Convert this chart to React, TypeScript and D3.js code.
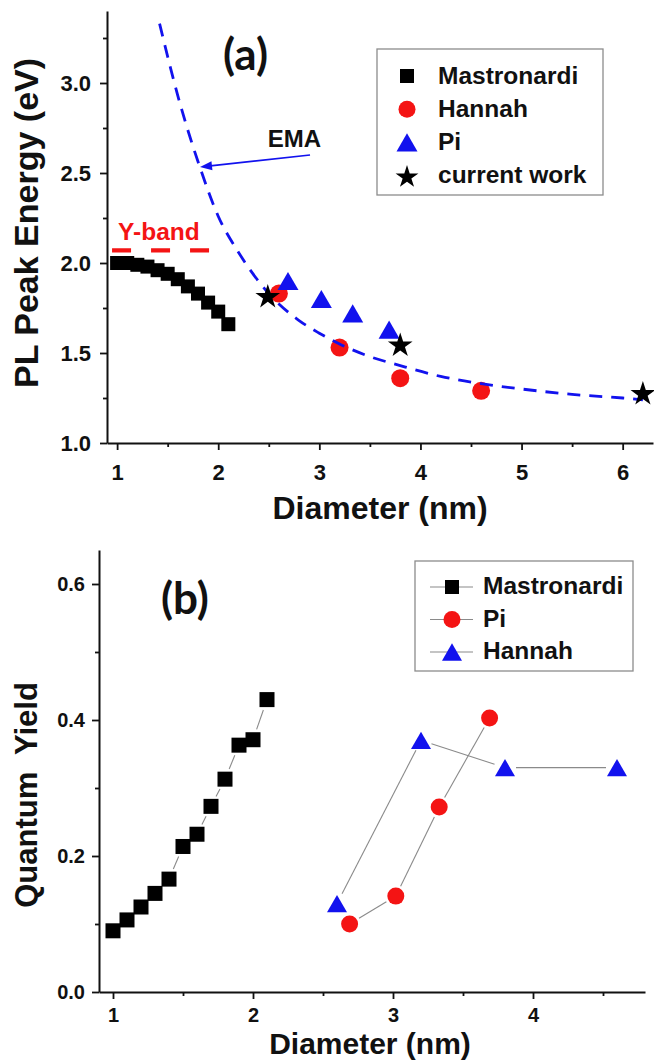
import * as d3 from 'd3'
import { useEffect, useRef } from 'react'

const W = 654
const H = 1063
const FONT = '"Liberation Sans", Arial, sans-serif'
const RED = '#f41414'
const BLUE = '#1212ee'

// panel (a): PL peak energy (eV) vs diameter (nm)
const mastroD = [1.0, 1.1, 1.2, 1.3, 1.4, 1.5, 1.6, 1.7, 1.8, 1.9, 2.0, 2.1]
const mastroPL = [2.0, 2.0, 1.99, 1.98, 1.96, 1.94, 1.91, 1.87, 1.83, 1.78, 1.73, 1.66]
const hannahD = [2.6, 3.2, 3.8, 4.6]
const hannahPL = [1.83, 1.53, 1.36, 1.29]
const piD = [2.69, 3.02, 3.33, 3.69]
const piPL = [1.9, 1.8, 1.72, 1.63]
const currentD = [2.49, 3.8, 6.2]
const currentPL = [1.82, 1.55, 1.28]
// EMA curve
const emaD = [1.42, 1.6, 1.82, 2.0, 2.2, 2.5, 2.8, 3.0, 3.2, 3.5, 3.8, 4.2, 4.6, 5.0, 5.5, 6.0, 6.2]
const emaPL = [3.33, 2.93, 2.53, 2.26, 2.06, 1.83, 1.68, 1.61, 1.55, 1.48, 1.43, 1.37, 1.33, 1.3, 1.27, 1.25, 1.24]
const yBandD = [0.95, 1.92]
const yBandPL = 2.07

// panel (b): quantum yield vs diameter (nm)
const mastroQY = [0.09, 0.106, 0.125, 0.145, 0.166, 0.214, 0.232, 0.273, 0.313, 0.363, 0.371, 0.43]
const piQY = [0.1, 0.141, 0.272, 0.403]
const hannahQY = [0.13, 0.37, 0.33, 0.33]

const xTicksA = [1, 2, 3, 4, 5, 6]
const xMinorA = [1.5, 2.5, 3.5, 4.5, 5.5]
const yTicksA = [1.0, 1.5, 2.0, 2.5, 3.0]
const yMinorA = [1.25, 1.75, 2.25, 2.75, 3.25]
const xTicksB = [1, 2, 3, 4]
const xMinorB = [1.5, 2.5, 3.5, 4.5]
const yTicksB = [0, 0.2, 0.4, 0.6]
const yMinorB = [0.1, 0.3, 0.5]

type Sel = d3.Selection<any, unknown, null, undefined>
type Shape = 'square' | 'circle' | 'triangle' | 'star'

function marker(g: Sel, shape: Shape, cx: number, cy: number, s: number, color: string) {
    if (shape === 'square') {
        g.append('rect').attr('x', cx - s / 2).attr('y', cy - s / 2).attr('width', s).attr('height', s).attr('fill', color)
    } else if (shape === 'circle') {
        g.append('circle').attr('cx', cx).attr('cy', cy).attr('r', s / 2).attr('fill', color)
    } else if (shape === 'triangle') {
        const h = s * 0.866
        g.append('path')
            .attr('d', `M${cx},${cy - h / 2}L${cx + s / 2},${cy + h / 2}L${cx - s / 2},${cy + h / 2}Z`)
            .attr('fill', color)
    } else {
        const r = s / 2
        g.append('path')
            .attr('d', d3.symbol(d3.symbolStar, (r * r) / 0.8908)()!)
            .attr('transform', `translate(${cx},${cy + 1.5})`)
            .attr('fill', color)
    }
}

function axes(svg: Sel, x: d3.ScaleLinear<number, number>, y: d3.ScaleLinear<number, number>,
    xMajor: number[], xMinor: number[], yMajor: number[], yMinor: number[],
    yFmt: (d: number) => string, fontSize: number, xPad: number, yPad: number) {
    const y0 = y.range()[0]
    const x0 = x.range()[0]

    const style = (g: Sel) => {
        g.select('.domain').attr('stroke', '#111').attr('stroke-width', 2)
        g.selectAll('.tick line').attr('stroke', '#111').attr('stroke-width', 1.8)
        g.selectAll('.tick text').attr('fill', '#111').attr('font-family', FONT)
            .attr('font-weight', 'bold').attr('font-size', fontSize)
    }

    const bottom = svg.append('g').attr('transform', `translate(0,${y0})`)
        .call(d3.axisBottom(x).tickValues(xMajor).tickFormat(d3.format('d') as any).tickSize(7).tickSizeOuter(0).tickPadding(xPad))
    style(bottom)
    const bottomMinor = svg.append('g').attr('transform', `translate(0,${y0})`)
        .call(d3.axisBottom(x).tickValues(xMinor).tickFormat(() => '').tickSize(4).tickSizeOuter(0))
    bottomMinor.select('.domain').remove()
    style(bottomMinor)

    const left = svg.append('g').attr('transform', `translate(${x0},0)`)
        .call(d3.axisLeft(y).tickValues(yMajor).tickFormat(yFmt as any).tickSize(7).tickSizeOuter(0).tickPadding(yPad))
    style(left)
    const leftMinor = svg.append('g').attr('transform', `translate(${x0},0)`)
        .call(d3.axisLeft(y).tickValues(yMinor).tickFormat(() => '').tickSize(4).tickSizeOuter(0))
    leftMinor.select('.domain').remove()
    style(leftMinor)
}

function label(svg: Sel, text: string, x: number, y: number, size: number, opts: { rotate?: boolean, color?: string, anchor?: string, family?: string } = {}) {
    const t = svg.append('text')
        .attr('transform', opts.rotate ? `translate(${x},${y}) rotate(-90)` : `translate(${x},${y})`)
        .attr('text-anchor', opts.anchor ?? 'middle')
        .attr('font-family', opts.family ?? FONT)
        .attr('font-weight', 'bold')
        .attr('font-size', size)
        .attr('fill', opts.color ?? '#111')
        .text(text)
    return t
}

function gapped(pts: [number, number][], gap: number) {
    return d3.pairs(pts).map(([p, q]) => {
        const dx = q[0] - p[0], dy = q[1] - p[1]
        const len = Math.hypot(dx, dy)
        if (len <= gap * 2) return null
        const ux = dx / len, uy = dy / len
        return [p[0] + ux * gap, p[1] + uy * gap, q[0] - ux * gap, q[1] - uy * gap]
    }).filter(Boolean) as number[][]
}

export default function App() {
    const svgRef = useRef<SVGSVGElement>(null)

    useEffect(() => {
        draw(svgRef)
    }, [])

    function draw(ref: React.RefObject<SVGSVGElement | null>) {
        const svg = d3.select(ref.current).attr('width', W).attr('height', H) as Sel
        svg.selectAll('*').remove()

        // ---------- panel (a)
        const xA = d3.scaleLinear().domain([0.9, 6.3]).range([107, 653])
        const yA = d3.scaleLinear().domain([1.0, 3.4]).range([443, 11])

        axes(svg, xA, yA, xTicksA, xMinorA, yTicksA, yMinorA, d3.format('.1f'), 22, 14, 9)

        const gA = svg.append('g')
        mastroD.forEach((d, i) => marker(gA, 'square', xA(d), yA(mastroPL[i]), 14, '#000'))
        hannahD.forEach((d, i) => marker(gA, 'circle', xA(d), yA(hannahPL[i]), 18, RED))
        piD.forEach((d, i) => marker(gA, 'triangle', xA(d), yA(piPL[i]), 21, BLUE))

        const ema = d3.line<number>().x(d => xA(d)).y((_, i) => yA(emaPL[i])).curve(d3.curveMonotoneX)
        svg.append('path').attr('d', ema(emaD)).attr('fill', 'none').attr('stroke', BLUE)
            .attr('stroke-width', 2.8).attr('stroke-dasharray', '13,9')

        currentD.forEach((d, i) => marker(svg, 'star', xA(d), yA(currentPL[i]), 26, '#000'))

        svg.append('line').attr('x1', xA(yBandD[0])).attr('x2', xA(yBandD[1]))
            .attr('y1', yA(yBandPL)).attr('y2', yA(yBandPL))
            .attr('stroke', RED).attr('stroke-width', 4.2).attr('stroke-dasharray', '19,20')
        label(svg, 'Y-band', xA(1.01), yA(2.128), 24.5, { anchor: 'start', color: RED })

        // EMA arrow
        const ax0 = xA(2.908), ay0 = yA(2.6), ax1 = xA(1.82), ay1 = yA(2.533)
        svg.append('line').attr('x1', ax0).attr('y1', ay0).attr('x2', ax1 + 8).attr('y2', ay1 - 0.9)
            .attr('stroke', BLUE).attr('stroke-width', 1.6)
        const ang = Math.atan2(ay1 - ay0, ax1 - ax0) * 180 / Math.PI
        svg.append('path').attr('d', 'M0,0L-12,-4.5L-12,4.5Z').attr('fill', BLUE)
            .attr('transform', `translate(${ax1},${ay1}) rotate(${ang})`)
        label(svg, 'EMA', xA(2.49), yA(2.644), 24, { anchor: 'start' })

        label(svg, '(a)', xA(2.27), yA(3.07), 44, { family: 'Lato, sans-serif' })
        label(svg, 'Diameter (nm)', 380, 519, 32)
        label(svg, 'PL Peak Energy (eV)', 38, 223, 34, { rotate: true })

        // legend (a)
        const legA = svg.append('g')
        legA.append('rect').attr('x', 377).attr('y', 49).attr('width', 226).attr('height', 146)
            .attr('fill', '#fff').attr('stroke', '#8c8c8c').attr('stroke-width', 1.3)
        const entriesA: [Shape, string, string, number][] = [
            ['square', '#000', 'Mastronardi', 14],
            ['circle', RED, 'Hannah', 17],
            ['triangle', BLUE, 'Pi', 21],
            ['star', '#000', 'current work', 24],
        ]
        entriesA.forEach(([shape, color, name, s], i) => {
            const cy = 76 + i * 33.2
            marker(legA, shape, 407, cy, s, color)
            label(legA, name, 438, cy + 7.5, 24.5, { anchor: 'start' })
        })

        // ---------- panel (b)
        const xB = d3.scaleLinear().domain([0.9, 4.8]).range([99, 645])
        const yB = d3.scaleLinear().domain([0, 0.65]).range([992, 550])

        axes(svg, xB, yB, xTicksB, xMinorB, yTicksB, yMinorB, d3.format('.1f'), 20, 9, 7)

        const seriesB: [number[], number[], Shape, string, number][] = [
            [mastroD, mastroQY, 'square', '#000', 15],
            [piD, piQY, 'circle', RED, 17],
            [hannahD, hannahQY, 'triangle', BLUE, 20],
        ]
        const gB = svg.append('g')
        seriesB.forEach(([xs, ys]) => {
            const pts = xs.map((d, i) => [xB(d), yB(ys[i])] as [number, number])
            gapped(pts, 11).forEach(([x1, y1, x2, y2]) => {
                gB.append('line').attr('x1', x1).attr('y1', y1).attr('x2', x2).attr('y2', y2)
                    .attr('stroke', '#8a8a8a').attr('stroke-width', 1.1)
            })
        })
        seriesB.forEach(([xs, ys, shape, color, s]) => {
            xs.forEach((d, i) => marker(gB, shape, xB(d), yB(ys[i]), s, color))
        })

        label(svg, '(b)', xB(1.514), yB(0.556), 44, { family: 'Lato, sans-serif' })
        label(svg, 'Diameter (nm)', 370, 1054, 30)
        label(svg, 'Quantum\u00a0 Yield', 37, 795, 31, { rotate: true })

        // legend (b)
        const legB = svg.append('g')
        legB.append('rect').attr('x', 415).attr('y', 561).attr('width', 218).attr('height', 110)
            .attr('fill', '#fff').attr('stroke', '#8c8c8c').attr('stroke-width', 1.3)
        const entriesB: [Shape, string, string, number][] = [
            ['square', '#000', 'Mastronardi', 14],
            ['circle', RED, 'Pi', 17],
            ['triangle', BLUE, 'Hannah', 20],
        ]
        entriesB.forEach(([shape, color, name, s], i) => {
            const cy = 587 + i * 32.5
            legB.append('line').attr('x1', 430).attr('x2', 473).attr('y1', cy).attr('y2', cy)
                .attr('stroke', '#8a8a8a').attr('stroke-width', 1.1)
            marker(legB, shape, 452, cy, s, color)
            label(legB, name, 483, cy + 7, 24.5, { anchor: 'start' })
        })
    }

    return (
        <svg ref={svgRef} style={{ position: 'absolute', left: 0, top: 0, background: '#fff' }}></svg>
    )
}
